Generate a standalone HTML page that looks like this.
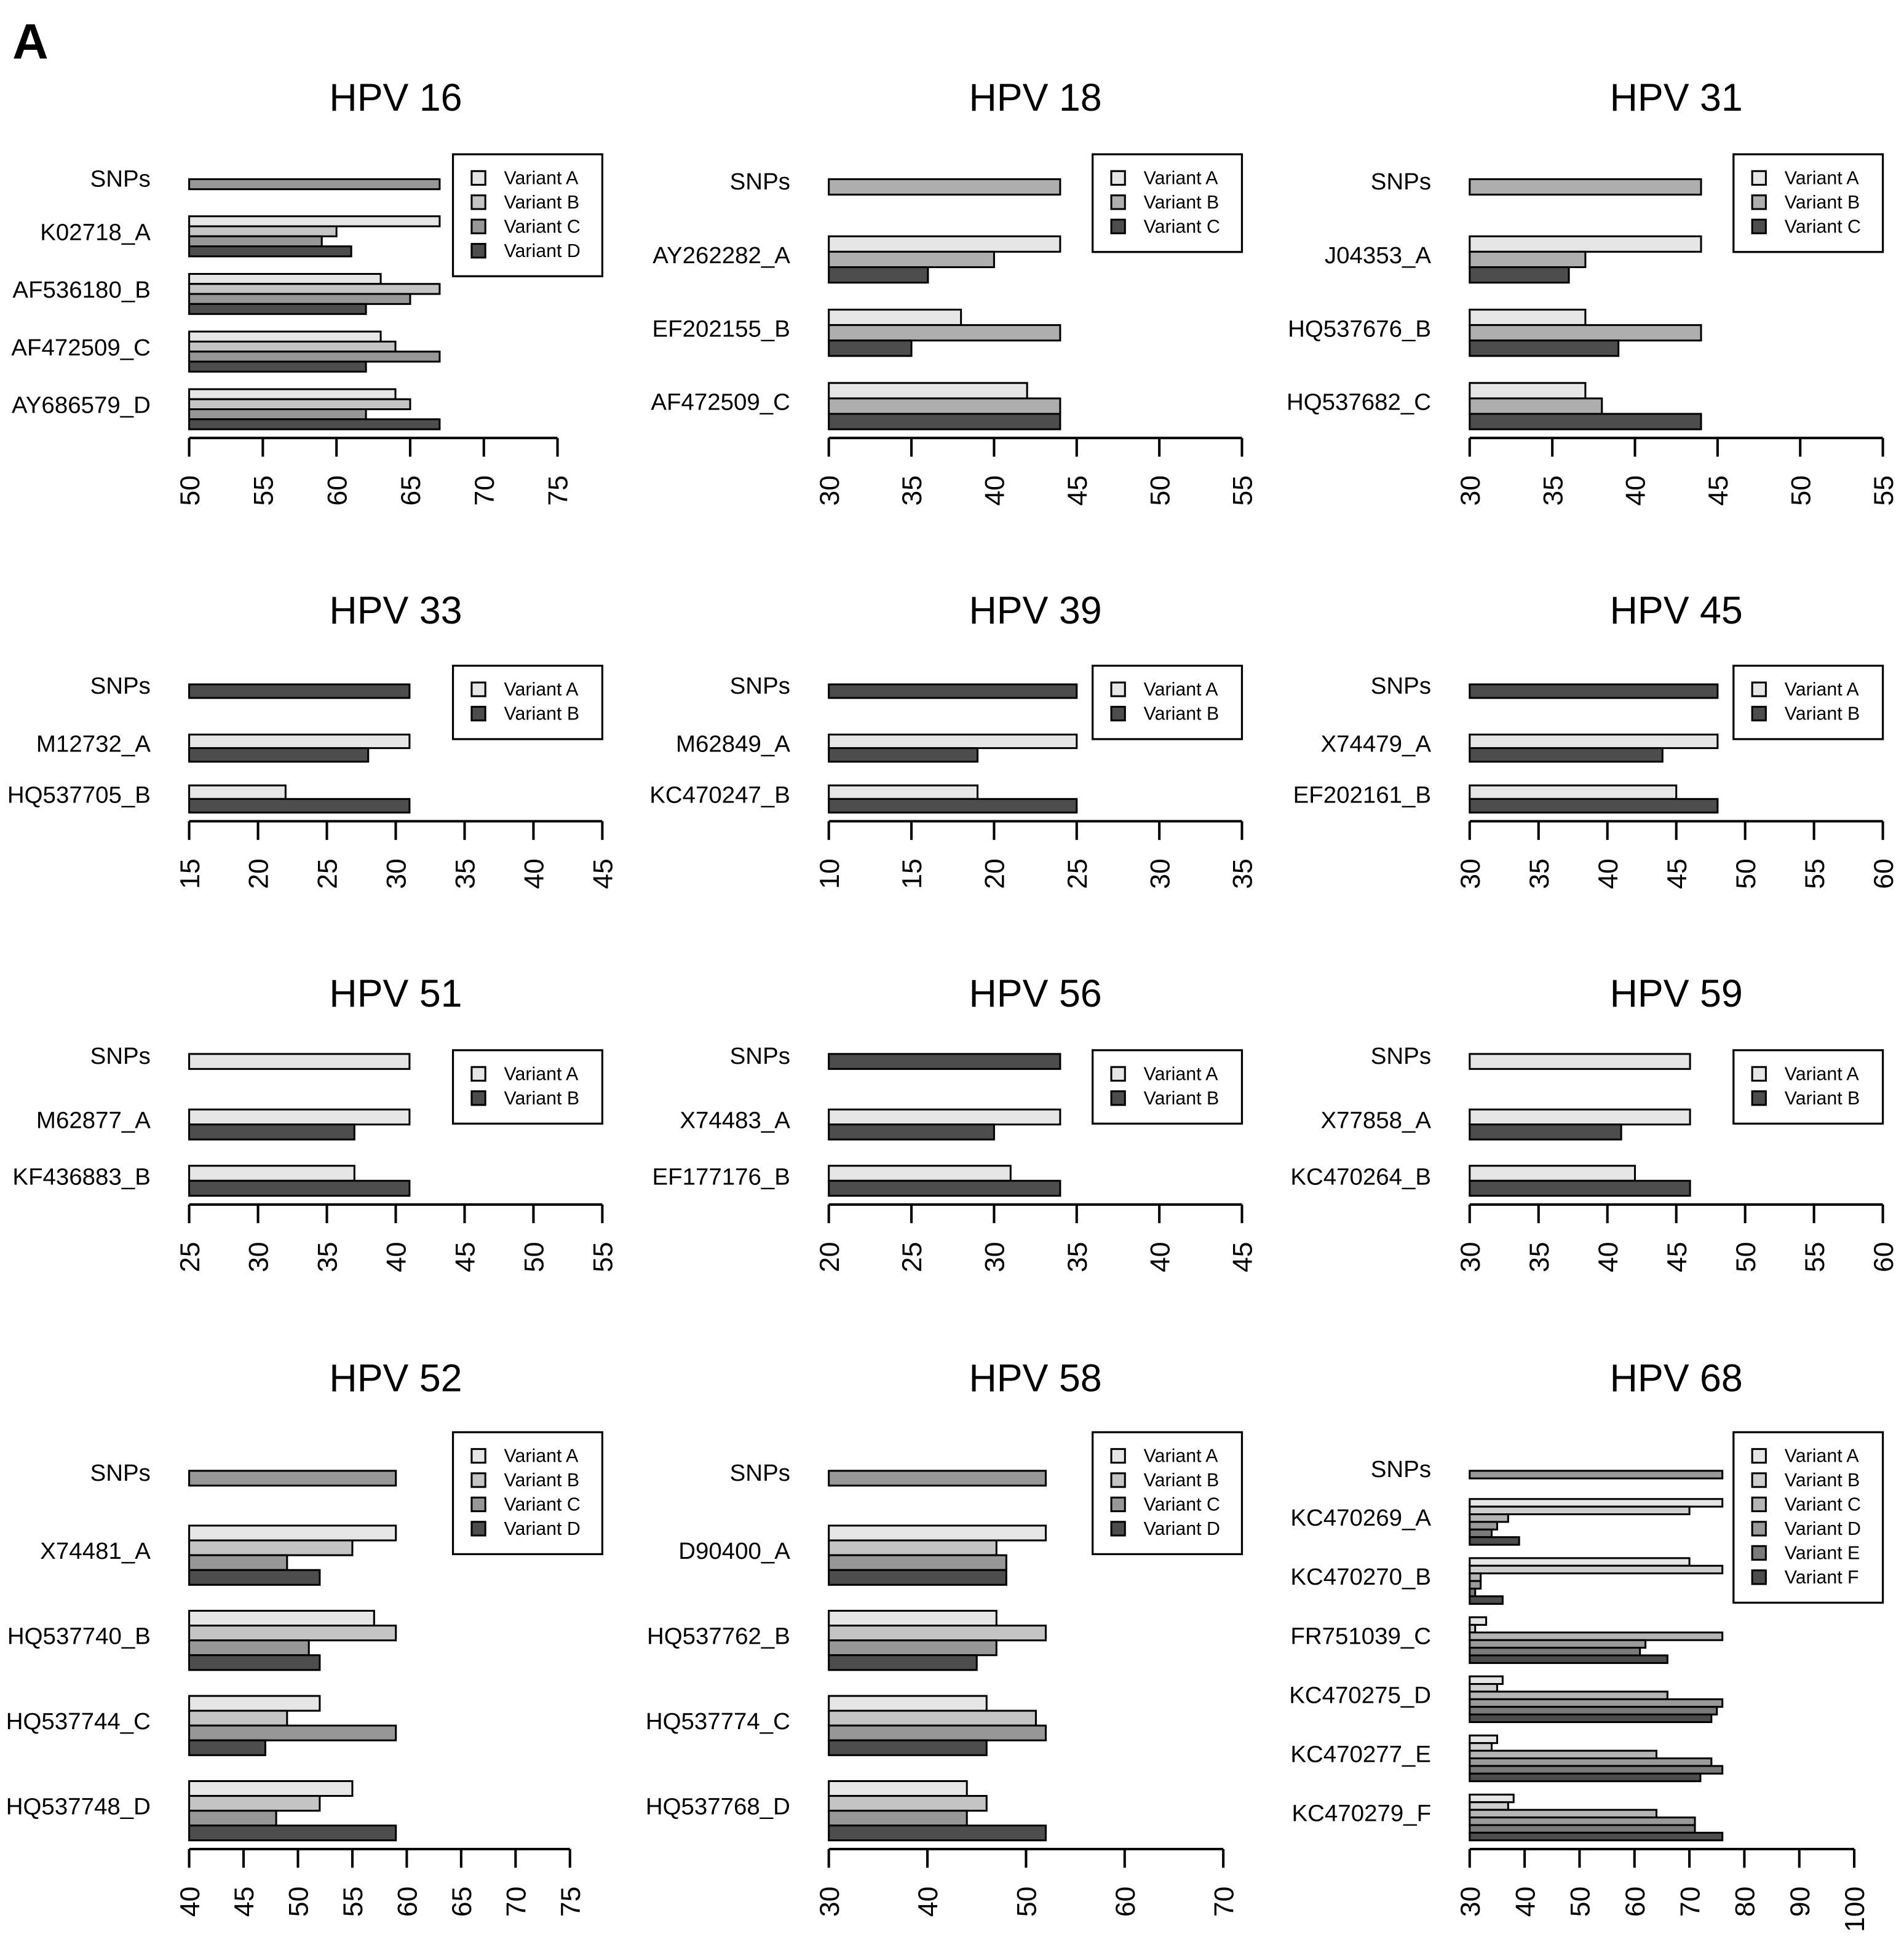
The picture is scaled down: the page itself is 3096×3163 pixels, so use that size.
<!DOCTYPE html>
<html><head><meta charset="utf-8">
<style>
html,body{margin:0;padding:0;background:#fff;}
svg{display:block;}
text{font-family:"Liberation Sans",Arial,sans-serif;fill:#000;}
</style></head>
<body>
<svg id="fig" xmlns="http://www.w3.org/2000/svg" width="3096" height="3163" viewBox="0 0 1530 1563.1" preserveAspectRatio="none">
<text x="10" y="47" font-size="40" font-weight="bold">A</text>
</svg>
<script>
// ---- data ----
const hpv16Cats = ["K02718_A","AF536180_B","AF472509_C","AY686579_D"];
const hpv16Snp = 67;
const hpv16Values = [[67,60,59,61],[63,67,65,62],[63,64,67,62],[64,65,62,67]];
const hpv16Ticks = [50,55,60,65,70,75];

const hpv18Cats = ["AY262282_A","EF202155_B","AF472509_C"];
const hpv18Snp = 44;
const hpv18Values = [[44,40,36],[38,44,35],[42,44,44]];
const hpv18Ticks = [30,35,40,45,50,55];

const hpv31Cats = ["J04353_A","HQ537676_B","HQ537682_C"];
const hpv31Snp = 44;
const hpv31Values = [[44,37,36],[37,44,39],[37,38,44]];
const hpv31Ticks = [30,35,40,45,50,55];

const hpv33Cats = ["M12732_A","HQ537705_B"];
const hpv33Snp = 31;
const hpv33Values = [[31,28],[22,31]];
const hpv33Ticks = [15,20,25,30,35,40,45];

const hpv39Cats = ["M62849_A","KC470247_B"];
const hpv39Snp = 25;
const hpv39Values = [[25,19],[19,25]];
const hpv39Ticks = [10,15,20,25,30,35];

const hpv45Cats = ["X74479_A","EF202161_B"];
const hpv45Snp = 48;
const hpv45Values = [[48,44],[45,48]];
const hpv45Ticks = [30,35,40,45,50,55,60];

const hpv51Cats = ["M62877_A","KF436883_B"];
const hpv51Snp = 41;
const hpv51Values = [[41,37],[37,41]];
const hpv51Ticks = [25,30,35,40,45,50,55];

const hpv56Cats = ["X74483_A","EF177176_B"];
const hpv56Snp = 34;
const hpv56Values = [[34,30],[31,34]];
const hpv56Ticks = [20,25,30,35,40,45];

const hpv59Cats = ["X77858_A","KC470264_B"];
const hpv59Snp = 46;
const hpv59Values = [[46,41],[42,46]];
const hpv59Ticks = [30,35,40,45,50,55,60];

const hpv52Cats = ["X74481_A","HQ537740_B","HQ537744_C","HQ537748_D"];
const hpv52Snp = 59;
const hpv52Values = [[59,55,49,52],[57,59,51,52],[52,49,59,47],[55,52,48,59]];
const hpv52Ticks = [40,45,50,55,60,65,70,75];

const hpv58Cats = ["D90400_A","HQ537762_B","HQ537774_C","HQ537768_D"];
const hpv58Snp = 52;
const hpv58Values = [[52,47,48,48],[47,52,47,45],[46,51,52,46],[44,46,44,52]];
const hpv58Ticks = [30,40,50,60,70];

const hpv68Cats = ["KC470269_A","KC470270_B","FR751039_C","KC470275_D","KC470277_E","KC470279_F"];
const hpv68Snp = 76;
const hpv68Values = [[76,70,37,35,34,39],[70,76,32,32,31,36],[33,31,76,62,61,66],[36,35,66,76,75,74],[35,34,64,74,76,72],[38,37,64,71,71,76]];
const hpv68Ticks = [30,40,50,60,70,80,90,100];

const variantNames = ["Variant A","Variant B","Variant C","Variant D","Variant E","Variant F"];

// ---- layout (not data) ----
const NS = "http://www.w3.org/2000/svg";
const svg = document.getElementById('fig');
const colLabelRight = [121,635,1150];
const colX0 = [152,666,1181];
const colLegendRight = [484,998,1513];
const colTitleX = [318,832,1347];
const rowTitleY = [78,490,798,1107];
const rowTop = [144,550,847,1182];
const rowAxis = [352,660,968,1486];

const palettes = {
  2:["#E6E6E6","#4D4D4D"],
  3:["#E6E6E6","#AEAEAE","#4D4D4D"],
  4:["#E6E6E6","#C4C4C4","#979797","#4D4D4D"],
  6:["#E6E6E6","#CECECE","#B5B5B5","#9A9A9A","#7A7A7A","#4D4D4D"]
};

function mk(tag, attrs, parent){
  const e = document.createElementNS(NS, tag);
  for (const k in attrs) e.setAttribute(k, attrs[k]);
  (parent||svg).appendChild(e);
  return e;
}

function panel(title, col, row, x1, cats, snp, snpIdx, values, ticks){
  const g = mk('g', {});
  
  
  const n = values[0].length, G = cats.length;
  const pal = palettes[n];
  const x0 = colX0[col];
  const tmin = ticks[0], tmax = ticks[ticks.length-1];
  const xs = v => x0 + (v - tmin) / (tmax - tmin) * (x1 - x0);
  const top = rowTop[row], axisY = rowAxis[row];
  const bottom = axisY - 7;
  const h = (bottom - top) / (3.7 + G*n + (G-1)*1.75);

  const t = mk('text', {x: colTitleX[col], y: rowTitleY[row] + 11, 'font-size': 31, 'text-anchor': 'middle'}, g);
  t.textContent = title;
  
  

  const sb = mk('rect', {x: xs(tmin), y: top, width: xs(snp) - xs(tmin), height: h, fill: pal[snpIdx], stroke: '#000', 'stroke-width': 1.5}, g);
  
  
  const sl = mk('text', {x: colLabelRight[col], y: top + h/2 + 2, 'font-size': 19, 'text-anchor': 'end'}, g);
  sl.textContent = 'SNPs';
  
  

  for (let gi = 0; gi < G; gi++){
    const gy = top + h*3.7 + gi*(n*h + 1.75*h);
    for (let vi = 0; vi < n; vi++){
      const r = mk('rect', {x: xs(tmin), y: gy + vi*h, width: xs(values[gi][vi]) - xs(tmin), height: h, fill: pal[vi], stroke: '#000', 'stroke-width': 1.5}, g);
      
      
    }
    const l = mk('text', {x: colLabelRight[col], y: gy + n*h/2 + 3, 'font-size': 19, 'text-anchor': 'end'}, g);
    l.textContent = cats[gi];
    
    
  }

  const ax = mk('line', {x1: xs(tmin), x2: xs(tmax), y1: axisY, y2: axisY, stroke: '#000', 'stroke-width': 2}, g);
  
  
  ticks.forEach(tv => {
    const tx = xs(tv);
    const tk = mk('line', {x1: tx, x2: tx, y1: axisY, y2: axisY + 15, stroke: '#000', 'stroke-width': 2}, g);
    
    
    const tl = mk('text', {x: 0, y: 0, 'font-size': 22, 'text-anchor': 'end', transform: 'translate(' + (tx + 8) + ',' + (axisY + 30) + ') rotate(-90)'}, g);
    tl.textContent = tv;
    
    
  });

  const lr = colLegendRight[col], lw = 120;
  const lt = row === 0 ? 124 : row === 1 ? 535 : row === 2 ? 844 : 1151;
  const lh = 20 + n*19.5;
  const lg = mk('g', {}, g);
  
  
  mk('rect', {x: lr - lw, y: lt, width: lw, height: lh, fill: '#fff', stroke: '#000', 'stroke-width': 1.6}, lg);
  for (let vi = 0; vi < n; vi++){
    const cy = lt + 19 + vi*19.5;
    const sw = mk('rect', {x: lr - lw + 15, y: cy - 5.5, width: 11, height: 11, fill: pal[vi], stroke: '#000', 'stroke-width': 1.5}, lg);
    
    
    const lt2 = mk('text', {x: lr - lw + 41, y: cy + 5, 'font-size': 15}, lg);
    lt2.textContent = variantNames[vi];
    
    
  }
}

panel('HPV 16', 0, 0, 448, hpv16Cats, hpv16Snp, 2, hpv16Values, hpv16Ticks);
panel('HPV 18', 1, 0, 998, hpv18Cats, hpv18Snp, 1, hpv18Values, hpv18Ticks);
panel('HPV 31', 2, 0, 1513, hpv31Cats, hpv31Snp, 1, hpv31Values, hpv31Ticks);
panel('HPV 33', 0, 1, 484, hpv33Cats, hpv33Snp, 1, hpv33Values, hpv33Ticks);
panel('HPV 39', 1, 1, 998, hpv39Cats, hpv39Snp, 1, hpv39Values, hpv39Ticks);
panel('HPV 45', 2, 1, 1513, hpv45Cats, hpv45Snp, 1, hpv45Values, hpv45Ticks);
panel('HPV 51', 0, 2, 484, hpv51Cats, hpv51Snp, 0, hpv51Values, hpv51Ticks);
panel('HPV 56', 1, 2, 998, hpv56Cats, hpv56Snp, 1, hpv56Values, hpv56Ticks);
panel('HPV 59', 2, 2, 1513, hpv59Cats, hpv59Snp, 0, hpv59Values, hpv59Ticks);
panel('HPV 52', 0, 3, 458, hpv52Cats, hpv52Snp, 2, hpv52Values, hpv52Ticks);
panel('HPV 58', 1, 3, 983, hpv58Cats, hpv58Snp, 2, hpv58Values, hpv58Ticks);
panel('HPV 68', 2, 3, 1490, hpv68Cats, hpv68Snp, 3, hpv68Values, hpv68Ticks);
</script>
</body></html>
